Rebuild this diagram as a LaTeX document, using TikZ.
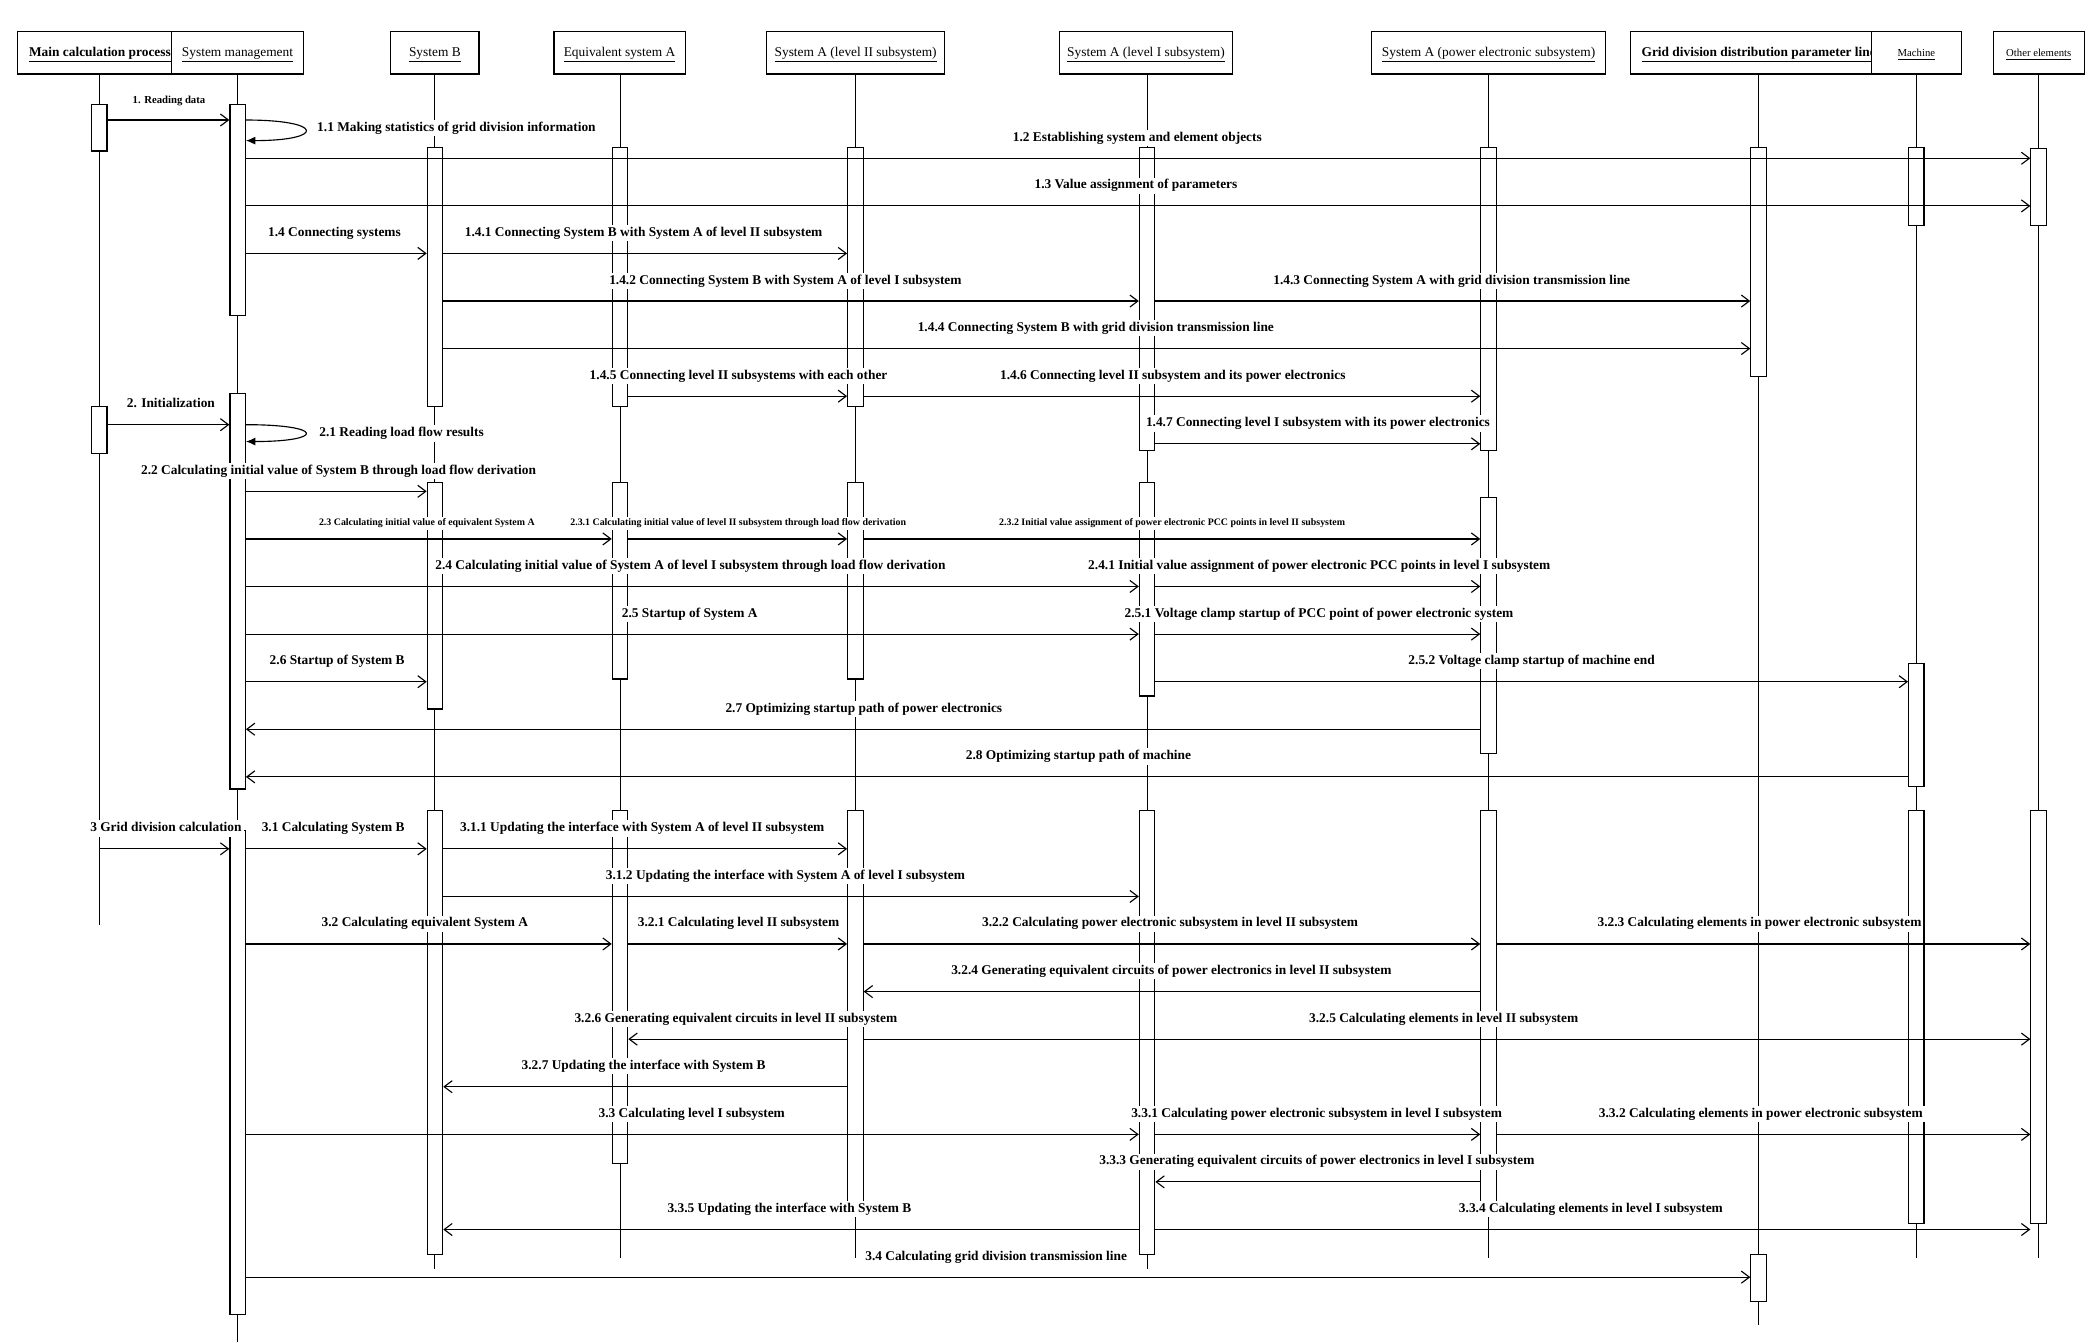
\documentclass[tikz,border=0pt]{standalone}
\usepackage{fontspec}
\setmainfont{Liberation Serif}
\usetikzlibrary{arrows.meta}

\tikzset{
  head/.style={draw, fill=white, line width=0.85pt, minimum height=31.6pt, inner sep=0pt, text height=8pt, text depth=2pt, font=\fontsize{10}{12}\selectfont},
  life/.style={line width=0.75pt},
  act/.style={draw, fill=white, line width=0.85pt, minimum width=11.5pt, inner sep=0pt},
  msg/.style={line width=0.85pt, -{Straight Barb[length=6pt,width=9pt]}},
  self/.style={line width=0.85pt, -{Latex[length=7pt,width=6pt]}},
  lbl/.style={fill=white, inner sep=1.5pt, text height=7pt, text depth=2pt, font=\fontsize{10}{12}\selectfont\bfseries},
  tiny/.style={lbl, text height=5.2pt, text depth=1.5pt, font=\fontsize{7.4}{9}\selectfont\bfseries}
}
\newcommand{\actbox}[4]{\node[act, minimum height={(#4-#3)*1pt}] (#1) at (#2 |- 0,{(#3+#4)/2}) {};}

\begin{document}
\begin{tikzpicture}[x=1pt, y=-1pt]
\useasboundingbox (0,0) rectangle (1568,1003);

% lifelines
\foreach \n/\x/\e in {main/74.2/691.2, mgmt/177.6/1003, sysB/325.1/948.4, eqA/463.4/940.4, aII/639.3/940.4, aI/857.3/948.4, aPE/1112.5/940.4, grid/1314.3/990.4, mach/1432.2/940.4, other/1523.6/940.4}{
  \coordinate (\n-top) at (\x,55.3);
  \coordinate (\n-end) at (\x,\e);
  \draw[life] (\n-top) -- (\n-end);
}

% heads
\node[head, minimum width=115.1pt] (main) at (70.75,39.5) {};
\node[inner sep=0pt, text height=8pt, text depth=2pt, font=\fontsize{10}{12}\selectfont\bfseries] (mainT) at (74.7,39.5) {\underline{Main calculation process}};
\node[head, minimum width=98.4pt] (mgmt) at (177.5,39.5) {\underline{System management}};
\node[head, minimum width=66pt] (sysB) at (325,39.5) {\underline{System B}};
\node[head, minimum width=98pt] (eqA) at (463,39.5) {\underline{Equivalent system A}};
\node[head, minimum width=133pt] (aII) at (639.5,39.5) {\underline{System A (level II subsystem)}};
\node[head, minimum width=129pt] (aI) at (856.5,39.5) {\underline{System A (level I subsystem)}};
\node[head, minimum width=175pt] (aPE) at (1112.5,39.5) {\underline{System A (power electronic subsystem)}};
\node[head, minimum width=190.9pt] (grid) at (1314.15,39.5) {};
\node[inner sep=0pt, anchor=west, text height=8pt, text depth=2pt, font=\fontsize{10}{12}\selectfont\bfseries] (gridT) at (1226.7,39.5) {\underline{Grid division distribution parameter line}};
\node[head, minimum width=67.7pt, font=\fontsize{8}{10}\selectfont] (mach) at (1432.25,39.5) {\underline{Machine}};
\node[head, minimum width=67.8pt, font=\fontsize{8}{10}\selectfont] (other) at (1523.7,39.5) {\underline{Other elements}};

% activations
\actbox{main1}{main-top}{78}{112.9}
\actbox{main2}{main-top}{304}{339}
\actbox{mgt1}{mgmt-top}{78}{236}
\actbox{mgt2}{mgmt-top}{294.3}{589.7}
\actbox{mgt3}{mgmt-top}{620.7}{982.5}
\actbox{sb1}{sysB-top}{110.5}{304}
\actbox{sb2}{sysB-top}{360.5}{529.9}
\actbox{sb3}{sysB-top}{605.9}{937.3}
\actbox{ea1}{eqA-top}{110.5}{304}
\actbox{ea2}{eqA-top}{360.5}{507.5}
\actbox{ea3}{eqA-top}{605.9}{869.4}
\actbox{a2s1}{aII-top}{110.5}{304}
\actbox{a2s2}{aII-top}{360.5}{507.5}
\actbox{a2s3}{aII-top}{605.9}{899}
\actbox{a1s1}{aI-top}{110.5}{337}
\actbox{a1s2}{aI-top}{360.5}{520.2}
\actbox{a1s3}{aI-top}{605.9}{937.3}
\actbox{pe1}{aPE-top}{110.5}{337}
\actbox{pe2}{aPE-top}{372}{563}
\actbox{pe3}{aPE-top}{605.9}{899}
\actbox{gd1}{grid-top}{110.5}{281.5}
\actbox{gd2}{grid-top}{937.3}{972.6}
\actbox{mc1}{mach-top}{110.5}{168.7}
\actbox{mc2}{mach-top}{495.8}{588}
\actbox{mc3}{mach-top}{605.9}{914.6}
\actbox{oe1}{other-top}{111}{168.7}
\actbox{oe2}{other-top}{605.9}{914.6}

% 1 reading data
\draw[msg] (main1.east |- 0,89.7) -- (mgt1.west |- 0,89.7);
\node[lbl, font=\fontsize{8}{10}\selectfont\bfseries] (l1) at (126.3,74.5) {1. Reading data};
\draw[self] (mgt1.east |- 0,89.7) .. controls (243,89.7) and (243,105.1) .. (mgt1.east |- 0,105.1);
\node[lbl, anchor=west] (l11) at (235.4,96) {1.1 Making statistics of grid division information};
\draw[msg] (mgt1.east |- 0,118.3) -- (oe1.west |- 0,118.3);
\node[lbl] (l12) at (850,103.1) {1.2 Establishing system and element objects};
\draw[msg] (mgt1.east |- 0,153.9) -- (oe1.west |- 0,153.9);
\node[lbl] (l13) at (849,138.7) {1.3 Value assignment of parameters};
\draw[msg] (mgt1.east |- 0,189.4) -- (sb1.west |- 0,189.4);
\node[lbl] (l14) at (250,174.2) {1.4 Connecting systems};
\draw[msg] (sb1.east |- 0,189.4) -- (a2s1.west |- 0,189.4);
\node[lbl] (l141) at (481,174.2) {1.4.1 Connecting System B with System A of level II subsystem};
\draw[msg] (sb1.east |- 0,225) -- (a1s1.west |- 0,225);
\node[lbl] (l142) at (587,209.8) {1.4.2 Connecting System B with System A of level I subsystem};
\draw[msg] (a1s1.east |- 0,225) -- (gd1.west |- 0,225);
\node[lbl] (l143) at (1085,209.8) {1.4.3 Connecting System A with grid division transmission line};
\draw[msg] (sb1.east |- 0,260.5) -- (gd1.west |- 0,260.5);
\node[lbl] (l144) at (819,245.3) {1.4.4 Connecting System B with grid division transmission line};
\draw[msg] (ea1.east |- 0,296.1) -- (a2s1.west |- 0,296.1);
\node[lbl] (l145) at (552,280.9) {1.4.5 Connecting level II subsystems with each other};
\draw[msg] (a2s1.east |- 0,296.1) -- (pe1.west |- 0,296.1);
\node[lbl] (l146) at (876.5,280.9) {1.4.6 Connecting level II subsystem and its power electronics};
\draw[msg] (a1s1.east |- 0,331.7) -- (pe1.west |- 0,331.7);
\node[lbl] (l147) at (985,316.5) {1.4.7 Connecting level I subsystem with its power electronics};

% 2 initialization
\draw[msg] (main2.east |- 0,317.4) -- (mgt2.west |- 0,317.4);
\node[lbl] (l2) at (127.7,302.2) {2. Initialization};
\draw[self] (mgt2.east |- 0,317.4) .. controls (243,317.4) and (243,330) .. (mgt2.east |- 0,330);
\node[lbl, anchor=west] (l21) at (237,324) {2.1 Reading load flow results};
\draw[msg] (mgt2.east |- 0,367.2) -- (sb2.west |- 0,367.2);
\node[lbl] (l22) at (253,352) {2.2 Calculating initial value of System B through load flow derivation};
\draw[msg] (mgt2.east |- 0,402.8) -- (ea2.west |- 0,402.8);
\node[tiny] (l23) at (319,391) {2.3 Calculating initial value of equivalent System A};
\draw[msg] (ea2.east |- 0,402.8) -- (a2s2.west |- 0,402.8);
\node[tiny] (l231) at (551.7,391) {2.3.1 Calculating initial value of level II subsystem through load flow derivation};
\draw[msg] (a2s2.east |- 0,402.8) -- (pe2.west |- 0,402.8);
\node[tiny] (l232) at (876,391) {2.3.2 Initial value assignment of power electronic PCC points in level II subsystem};
\draw[msg] (mgt2.east |- 0,438.3) -- (a1s2.west |- 0,438.3);
\node[lbl] (l24) at (516,423.1) {2.4 Calculating initial value of System A of level I subsystem through load flow derivation};
\draw[msg] (a1s2.east |- 0,438.3) -- (pe2.west |- 0,438.3);
\node[lbl] (l241) at (986,423.1) {2.4.1 Initial value assignment of power electronic PCC points in level I subsystem};
\draw[msg] (mgt2.east |- 0,473.9) -- (a1s2.west |- 0,473.9);
\node[lbl] (l25) at (515.5,458.7) {2.5 Startup of System A};
\draw[msg] (a1s2.east |- 0,473.9) -- (pe2.west |- 0,473.9);
\node[lbl] (l251) at (985.8,458.7) {2.5.1 Voltage clamp startup of PCC point of power electronic system};
\draw[msg] (mgt2.east |- 0,509.5) -- (sb2.west |- 0,509.5);
\node[lbl] (l26) at (252,494.3) {2.6 Startup of System B};
\draw[msg] (a1s2.east |- 0,509.5) -- (mc2.west |- 0,509.5);
\node[lbl] (l252) at (1144.7,494.3) {2.5.2 Voltage clamp startup of machine end};
\draw[msg] (pe2.west |- 0,545) -- (mgt2.east |- 0,545);
\node[lbl] (l27) at (645.6,529.8) {2.7 Optimizing startup path of power electronics};
\draw[msg] (mc2.west |- 0,580.6) -- (mgt2.east |- 0,580.6);
\node[lbl] (l28) at (806,565.4) {2.8 Optimizing startup path of machine};

% 3 grid division calculation
\draw[msg] (main-top |- 0,634.4) -- (mgt3.west |- 0,634.4);
\node[lbl] (l3) at (124,619.2) {3 Grid division calculation};
\draw[msg] (mgt3.east |- 0,634.4) -- (sb3.west |- 0,634.4);
\node[lbl] (l31) at (249,619.2) {3.1 Calculating System B};
\draw[msg] (sb3.east |- 0,634.4) -- (a2s3.west |- 0,634.4);
\node[lbl] (l311) at (480,619.2) {3.1.1 Updating the interface with System A of level II subsystem};
\draw[msg] (sb3.east |- 0,670) -- (a1s3.west |- 0,670);
\node[lbl] (l312) at (587,654.8) {3.1.2 Updating the interface with System A of level I subsystem};
\draw[msg] (mgt3.east |- 0,705.5) -- (ea3.west |- 0,705.5);
\node[lbl] (l32) at (317.5,690.3) {3.2 Calculating equivalent System A};
\draw[msg] (ea3.east |- 0,705.5) -- (a2s3.west |- 0,705.5);
\node[lbl] (l321) at (552,690.3) {3.2.1 Calculating level II subsystem};
\draw[msg] (a2s3.east |- 0,705.5) -- (pe3.west |- 0,705.5);
\node[lbl] (l322) at (874.5,690.3) {3.2.2 Calculating power electronic subsystem in level II subsystem};
\draw[msg] (pe3.east |- 0,705.5) -- (oe2.west |- 0,705.5);
\node[lbl] (l323) at (1315,690.3) {3.2.3 Calculating elements in power electronic subsystem};
\draw[msg] (pe3.west |- 0,741.1) -- (a2s3.east |- 0,741.1);
\node[lbl] (l324) at (875.5,725.9) {3.2.4 Generating equivalent circuits of power electronics in level II subsystem};
\draw[msg] (a2s3.west |- 0,776.6) -- (ea3.east |- 0,776.6);
\node[lbl] (l326) at (550,761.4) {3.2.6 Generating equivalent circuits in level II subsystem};
\draw[msg] (a2s3.east |- 0,776.6) -- (oe2.west |- 0,776.6);
\node[lbl] (l325) at (1079,761.4) {3.2.5 Calculating elements in level II subsystem};
\draw[msg] (a2s3.west |- 0,812.2) -- (sb3.east |- 0,812.2);
\node[lbl] (l327) at (481,797) {3.2.7 Updating the interface with System B};
\draw[msg] (mgt3.east |- 0,847.8) -- (a1s3.west |- 0,847.8);
\node[lbl] (l33) at (517,832.6) {3.3 Calculating level I subsystem};
\draw[msg] (a1s3.east |- 0,847.8) -- (pe3.west |- 0,847.8);
\node[lbl] (l331) at (984,832.6) {3.3.1 Calculating power electronic subsystem in level I subsystem};
\draw[msg] (pe3.east |- 0,847.8) -- (oe2.west |- 0,847.8);
\node[lbl] (l332) at (1316,832.6) {3.3.2 Calculating elements in power electronic subsystem};
\draw[msg] (pe3.west |- 0,883.3) -- (a1s3.east |- 0,883.3);
\node[lbl] (l333) at (984.2,868.1) {3.3.3 Generating equivalent circuits of power electronics in level I subsystem};
\draw[msg] (a1s3.west |- 0,918.9) -- (sb3.east |- 0,918.9);
\node[lbl] (l335) at (590,903.7) {3.3.5 Updating the interface with System B};
\draw[msg] (a1s3.east |- 0,918.9) -- (oe2.west |- 0,918.9);
\node[lbl] (l334) at (1189,903.7) {3.3.4 Calculating elements in level I subsystem};
\draw[msg] (mgt3.east |- 0,954.5) -- (gd2.west |- 0,954.5);
\node[lbl] (l34) at (744.5,939.3) {3.4 Calculating grid division transmission line};
\end{tikzpicture}
\end{document}
